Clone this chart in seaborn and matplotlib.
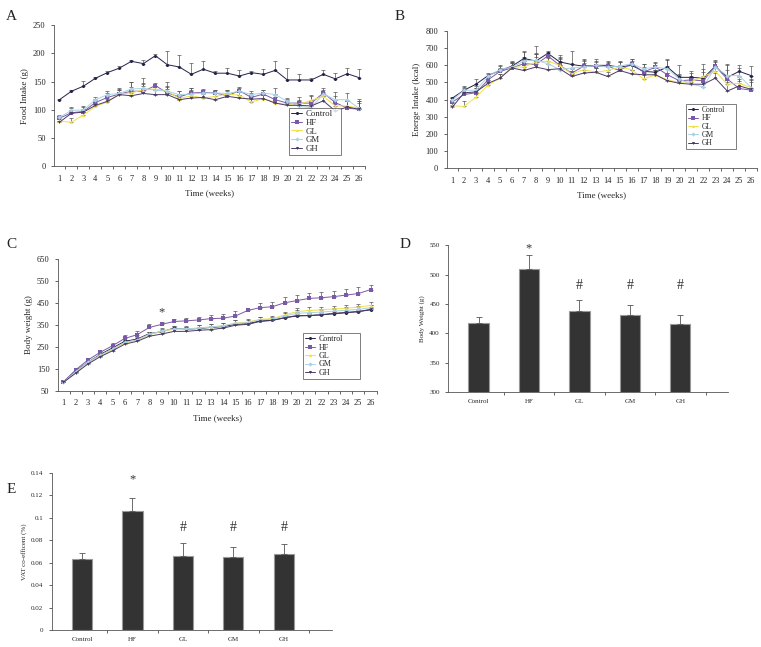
import numpy as np
import pandas as pd
import matplotlib
matplotlib.use("Agg")
import matplotlib.pyplot as plt
import seaborn as sns

sns.set_theme(style="white")
plt.rcParams['font.family'] = ['Liberation Serif', 'DejaVu Serif']

weeks = list(range(1, 27))
groups = ["Control", "HF", "GL", "GM", "GH"]

# A: food intake (g)
a_control = [118, 133, 142, 156, 166, 174, 186, 182, 196, 180, 176, 163, 172, 165, 165, 160, 166, 163, 170, 153, 153, 153, 163, 155, 164, 157]
a_hf = [85, 95, 97, 113, 122, 128, 133, 133, 143, 130, 123, 130, 131, 130, 125, 134, 122, 128, 118, 112, 112, 112, 130, 113, 103, 101]
a_gl = [80, 78, 91, 106, 114, 128, 130, 136, 137, 133, 120, 125, 121, 124, 128, 126, 114, 120, 112, 110, 110, 117, 124, 107, 107, 103]
a_gm = [87, 99, 100, 118, 127, 129, 137, 138, 135, 133, 127, 128, 130, 130, 129, 133, 127, 130, 127, 115, 106, 104, 128, 118, 118, 102]
a_gh = [78, 94, 96, 108, 115, 127, 125, 129, 127, 127, 118, 121, 122, 118, 124, 121, 119, 120, 112, 108, 108, 107, 116, 98, 105, 101]
a_control_err = [2, 3, 9, 3, 2, 3, 2, 6, 3, 24, 21, 20, 14, 4, 9, 10, 2, 9, 16, 21, 10, 4, 7, 10, 10, 16]
a_hf_err = [4, 8, 8, 6, 8, 10, 16, 14, 5, 10, 10, 8, 6, 6, 8, 6, 8, 8, 10, 8, 10, 12, 8, 12, 12, 14]
a_gl_err = [4, 8, 6, 6, 6, 8, 10, 10, 6, 10, 8, 10, 8, 6, 8, 6, 10, 6, 10, 8, 8, 10, 8, 10, 8, 10]
a_gm_err = [4, 6, 6, 4, 6, 8, 12, 18, 8, 16, 6, 10, 6, 6, 6, 6, 6, 6, 12, 6, 8, 10, 8, 14, 12, 18]
a_gh_err = [3, 6, 6, 6, 6, 8, 10, 14, 8, 10, 8, 12, 6, 6, 6, 6, 6, 6, 10, 6, 8, 8, 8, 12, 10, 14]

# B: energy intake (kcal)
b_control = [408, 455, 490, 540, 570, 595, 640, 625, 670, 620, 605, 595, 600, 600, 590, 600, 565, 560, 590, 530, 530, 525, 595, 530, 565, 540]
b_hf = [385, 430, 440, 515, 565, 585, 610, 605, 655, 600, 555, 595, 595, 595, 570, 610, 560, 590, 545, 510, 515, 510, 595, 520, 465, 455]
b_gl = [365, 360, 415, 485, 525, 590, 590, 620, 625, 600, 550, 575, 560, 570, 590, 575, 520, 545, 515, 500, 505, 535, 565, 490, 495, 470]
b_gm = [395, 455, 455, 535, 575, 590, 625, 630, 610, 575, 585, 590, 600, 590, 595, 610, 580, 590, 580, 520, 490, 475, 590, 540, 540, 470]
b_gh = [355, 440, 445, 495, 525, 585, 570, 590, 575, 580, 535, 555, 560, 535, 570, 550, 545, 545, 510, 495, 490, 490, 525, 450, 480, 460]
b_control_err = [8, 18, 30, 15, 15, 20, 42, 40, 15, 40, 78, 30, 35, 25, 35, 25, 40, 40, 45, 70, 35, 85, 35, 75, 35, 55]
b_hf_err = [15, 30, 30, 20, 30, 35, 40, 60, 25, 50, 30, 40, 25, 25, 30, 25, 30, 30, 50, 40, 40, 50, 30, 50, 45, 50]
b_gl_err = [15, 30, 25, 20, 25, 30, 40, 50, 25, 40, 30, 40, 25, 25, 30, 25, 35, 25, 40, 35, 35, 45, 30, 45, 35, 45]
b_gm_err = [15, 25, 25, 15, 25, 35, 50, 80, 30, 60, 25, 40, 25, 25, 25, 25, 25, 25, 50, 25, 35, 45, 30, 60, 45, 70]
b_gh_err = [12, 25, 25, 20, 25, 30, 40, 60, 30, 45, 30, 45, 25, 25, 25, 25, 25, 25, 45, 25, 35, 35, 30, 50, 40, 60]

# C: body weight (g)
c_control = [90, 140, 180, 215, 245, 275, 285, 310, 318, 335, 330, 333, 338, 342, 352, 355, 368, 370, 382, 390, 392, 395, 400, 405, 410, 418]
c_hf = [90, 145, 190, 225, 255, 288, 305, 338, 352, 365, 368, 372, 378, 380, 390, 415, 428, 432, 450, 460, 470, 473, 478, 485, 492, 510]
c_gl = [88, 135, 178, 210, 238, 268, 280, 305, 320, 330, 330, 335, 340, 345, 358, 362, 375, 378, 395, 410, 415, 418, 422, 425, 430, 438]
c_gm = [88, 137, 180, 212, 240, 270, 282, 307, 322, 332, 332, 335, 340, 346, 356, 360, 372, 375, 390, 402, 405, 408, 412, 416, 420, 428]
c_gh = [88, 130, 172, 205, 232, 262, 275, 298, 308, 320, 320, 325, 328, 335, 348, 352, 365, 370, 382, 392, 392, 396, 402, 406, 410, 420]
c_control_err = [3, 5, 5, 5, 6, 8, 8, 8, 8, 8, 8, 8, 8, 8, 8, 8, 8, 8, 8, 8, 8, 8, 8, 8, 8, 8]
c_hf_err = [4, 8, 8, 8, 12, 15, 15, 15, 12, 12, 14, 14, 16, 18, 24, 6, 22, 22, 25, 25, 25, 25, 25, 28, 30, 22]
c_gl_err = [3, 6, 6, 6, 8, 10, 10, 10, 12, 12, 12, 12, 12, 12, 14, 14, 12, 12, 12, 15, 15, 15, 15, 15, 15, 15]
c_gm_err = [3, 6, 6, 6, 8, 10, 10, 10, 12, 12, 12, 12, 12, 12, 14, 14, 12, 12, 12, 14, 14, 14, 14, 14, 14, 14]
c_gh_err = [3, 5, 5, 5, 6, 8, 8, 8, 10, 10, 10, 10, 10, 10, 12, 12, 10, 10, 10, 12, 12, 12, 12, 12, 12, 12]

# D: final body weight (g), E: VAT coefficient (%)
d_mean = [418, 510, 438, 431, 416]
d_err = [10, 24, 19, 17, 15]
d_marks = ["", "*", "#", "#", "#"]
e_mean = [0.063, 0.106, 0.066, 0.065, 0.068]
e_err = [0.006, 0.012, 0.012, 0.009, 0.009]
e_marks = ["", "*", "#", "#", "#"]

line_colors = {"Control": "#23234a", "HF": "#7a5aa8", "GL": "#f2e04a", "GM": "#a9d2e6", "GH": "#4b3a66"}
line_markers = {"Control": "o", "HF": "s", "GL": "^", "GM": "D", "GH": "v"}

fig = plt.figure(figsize=(7.61, 6.47), dpi=100)


def line_panel(rect, series, errs, ylim, yticks, ylabel, legend_rect, leg_fs=5.5, tick_fs=6):
    ax = fig.add_axes(rect)
    rows = []
    for g in groups:
        for w, v in zip(weeks, series[g]):
            rows.append({"week": w - 1, "value": v, "group": g})
    df = pd.DataFrame(rows)
    for g in groups:
        ax.errorbar(np.arange(26), series[g], yerr=[np.zeros(26), errs[g]],
                    fmt="none", ecolor="#555555", elinewidth=0.5, capsize=1.5, capthick=0.5, zorder=2)
    sns.lineplot(data=df, x="week", y="value", hue="group", style="group",
                 palette=line_colors, markers=line_markers, dashes=False,
                 markersize=2.2, linewidth=0.7, markeredgewidth=0, ax=ax, zorder=3)
    ax.set_xlim(-0.45, 25.4)
    ax.set_ylim(*ylim)
    ax.set_yticks(yticks)
    ax.set_xticks(np.arange(26))
    ax.set_xticklabels([str(w) for w in weeks])
    ax.set_xticks(np.arange(26) + 0.5, minor=True)
    ax.tick_params(axis="x", which="major", length=0, pad=6, labelsize=tick_fs)
    ax.tick_params(axis="x", which="minor", length=2.5, width=0.5, direction="out", bottom=True)
    ax.tick_params(axis="y", length=2.5, width=0.5, direction="out", left=True, labelsize=tick_fs)
    for s in ["top", "right"]:
        ax.spines[s].set_visible(False)
    for s in ["left", "bottom"]:
        ax.spines[s].set_linewidth(0.6)
        ax.spines[s].set_color("#555555")
    ax.set_xlabel("Time (weeks)", fontsize=6.5, labelpad=5)
    ax.set_ylabel(ylabel, fontsize=6.5, labelpad=3)
    leg = ax.legend(loc="lower left", bbox_to_anchor=legend_rect, fontsize=leg_fs,
                    frameon=True, fancybox=False, handlelength=1.3, handletextpad=0.4,
                    borderpad=0.25, labelspacing=0.05, mode="expand")
    leg.get_frame().set_edgecolor("#444444")
    leg.get_frame().set_linewidth(0.6)
    ax.grid(False)
    return ax


def bar_panel(rect, means, errs, marks, ylim, yticks, yticklabels, ylabel, mark_y):
    ax = fig.add_axes(rect)
    df = pd.DataFrame({"group": groups, "value": means})
    sns.barplot(data=df, x="group", y="value", color="#333333", width=0.4,
                edgecolor="#999999", linewidth=0.8, ax=ax, zorder=2)
    ax.errorbar(np.arange(5), means, yerr=[np.zeros(5), errs], fmt="none",
                ecolor="#555555", elinewidth=0.6, capsize=2, capthick=0.6, zorder=3)
    for i, m in enumerate(marks):
        if m:
            ax.text(i, mark_y[m], m, ha="center", va="center", fontsize=10 if m == "#" else 9, color="#333333")
    ax.set_ylim(*ylim)
    ax.set_yticks(yticks)
    ax.set_yticklabels(yticklabels)
    ax.set_xlim(-0.6, 4.95)
    ax.set_xticks(np.arange(5) + 0.5, minor=True)
    ax.tick_params(axis="x", which="major", length=0, pad=5, labelsize=5)
    ax.tick_params(axis="x", which="minor", length=2.5, width=0.5, direction="out", bottom=True)
    ax.tick_params(axis="y", length=2.5, width=0.5, direction="out", left=True, labelsize=5)
    for s in ["top", "right"]:
        ax.spines[s].set_visible(False)
    for s in ["left", "bottom"]:
        ax.spines[s].set_linewidth(0.6)
        ax.spines[s].set_color("#555555")
    ax.set_xlabel("")
    ax.set_ylabel(ylabel, fontsize=5, labelpad=3)
    ax.grid(False)
    return ax


ax_a = line_panel([0.071, 0.743, 0.409, 0.218],
                  dict(zip(groups, [a_control, a_hf, a_gl, a_gm, a_gh])),
                  dict(zip(groups, [a_control_err, a_hf_err, a_gl_err, a_gm_err, a_gh_err])),
                  (0, 250), range(0, 251, 50), "Food Intake (g)", (0.74, 0.05, 0.195, 0.3),
                  leg_fs=6.3)
ax_b = line_panel([0.587, 0.740, 0.408, 0.212],
                  dict(zip(groups, [b_control, b_hf, b_gl, b_gm, b_gh])),
                  dict(zip(groups, [b_control_err, b_hf_err, b_gl_err, b_gm_err, b_gh_err])),
                  (0, 800), range(0, 801, 100), "Energe Intake (kcal)", (0.76, 0.11, 0.185, 0.31))
ax_c = line_panel([0.076, 0.396, 0.419, 0.204],
                  dict(zip(groups, [c_control, c_hf, c_gl, c_gm, c_gh])),
                  dict(zip(groups, [c_control_err, c_hf_err, c_gl_err, c_gm_err, c_gh_err])),
                  (50, 650), range(50, 651, 100), "Body weight (g)", (0.755, 0.06, 0.205, 0.34),
                  leg_fs=5.8)
ax_c.text(8, 408, "*", ha="center", va="center", fontsize=9, color="#333333")

bar_panel([0.589, 0.394, 0.368, 0.227], d_mean, d_err, d_marks, (300, 550),
          range(300, 551, 50), [str(v) for v in range(300, 551, 50)], "Body Weight (g)",
          {"*": 545, "#": 482})
e_ticks = [0, 0.02, 0.04, 0.06, 0.08, 0.1, 0.12, 0.14]
bar_panel([0.068, 0.026, 0.368, 0.243], e_mean, e_err, e_marks, (0, 0.14),
          e_ticks, ["0", "0.02", "0.04", "0.06", "0.08", "0.1", "0.12", "0.14"],
          "VAT co-efficent (%)", {"*": 0.134, "#": 0.091})

for letter, x, y in [("A", 0.008, 0.975), ("B", 0.518, 0.975), ("C", 0.008, 0.622),
                     ("D", 0.525, 0.622), ("E", 0.008, 0.243)]:
    fig.text(x, y, letter, fontsize=11, ha="left", va="center", color="#222222")

fig.savefig("out.png", dpi=100)
